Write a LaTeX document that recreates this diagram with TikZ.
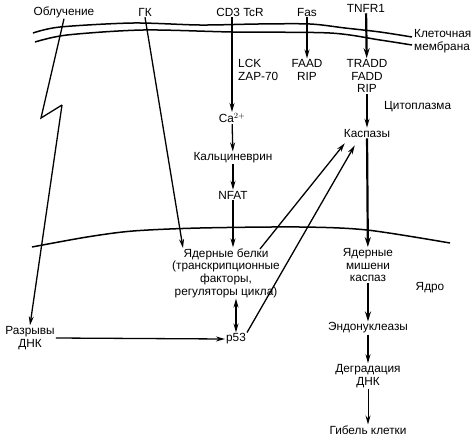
\documentclass[tikz,border=0pt]{standalone}
\usepackage{fontspec}
\setmainfont{Liberation Sans}
\usetikzlibrary{arrows.meta}
\begin{document}
\begin{tikzpicture}[x=1pt,y=-1pt,
  font=\fontsize{11.8}{12.6}\selectfont,
  lbl/.style={inner sep=1pt, align=center},
  arr/.style={line width=1.3pt, -{Stealth[length=9pt,width=5pt]}},
  darr/.style={line width=1.3pt, {Stealth[length=9pt,width=5pt]}-{Stealth[length=9pt,width=5pt]}},
  tarr/.style={line width=2.2pt, -{Stealth[length=10pt,width=6pt]}},
  mem/.style={line width=1.5pt}]
\useasboundingbox (0,0) rectangle (475,440);
% membranes
\draw[mem] plot[smooth] coordinates {(33,33) (60,27) (133,23) (200,25) (258,24) (310,24) (345,28) (380,32) (412,37)};
\draw[mem] plot[smooth] coordinates {(35,42) (67,35) (143,30) (233,32) (330,33) (380,40) (412,45)};
\draw[mem] plot[smooth] coordinates {(32,247) (87,237) (133,231) (200,228) (300,227) (367,230) (450,243)};
% labels
\node[lbl] (obl) at (64,12) {Облучение};
\node[lbl] (gk) at (145,12) {ГК};
\node[lbl] (cd3) at (240,12) {CD3 TcR};
\node[lbl] (fas) at (307,12) {Fas};
\node[lbl] (tnfr) at (366,8) {TNFR1};
\node[lbl, align=left, anchor=west] (klet) at (413,41) {Клеточная\\мембрана};
\node[lbl, align=left, anchor=west] (lck) at (237,70) {LCK\\ZAP-70};
\node[lbl] (faad) at (307,70) {FAAD\\RIP};
\node[lbl] (tradd) at (367,76) {TRADD\\FADD\\RIP};
\node[lbl, anchor=west] (cyto) at (383,107) {Цитоплазма};
\node[lbl] (ca) at (232,118) {Ca$^{2+}$};
\node[lbl] (kalc) at (233,158) {Кальциневрин};
\node[lbl] (nfat) at (233,195) {NFAT};
\node[lbl] (kasp) at (367,133) {Каспазы};
\node[lbl] (nb) at (226,273) {Ядерные белки\\(транскрипционные\\факторы,\\регуляторы цикла)};
\node[lbl] (p53) at (236,339) {p53};
\node[lbl] (razr) at (30,338) {Разрывы\\ДНК};
\node[lbl] (mish) at (368,265) {Ядерные\\мишени\\каспаз};
\node[lbl] (yadro) at (430,288) {Ядро};
\node[lbl] (endo) at (368,328) {Эндонуклеазы};
\node[lbl] (degr) at (368,376) {Деградация\\ДНК};
\node[lbl] (gib) at (368,430) {Гибель клетки};
% helper coordinates
\coordinate (zz1) at (41,118);
\coordinate (zz2) at (62,105);
\coordinate (gkend) at (183,248);
\coordinate (nbk) at (260,249);
% arrows
\draw[line width=1.3pt] (obl.south) -- (zz1) -- (zz2);
\draw[arr] (zz2) -- (razr.north);
\draw[arr] (gk.south) -- (gkend);
\draw[arr] (cd3.south -| ca) -- (ca.north);
\draw[arr] (ca) -- (kalc);
\draw[arr] (kalc) -- (nfat);
\draw[arr] (nfat) -- (nb.north -| nfat);
\draw[arr] (fas) -- (faad);
\draw[tarr] (tnfr) -- (tradd);
\draw[arr] (tradd) -- (kasp);
\draw[tarr] (kasp) -- (mish);
\draw[tarr] (mish) -- (endo);
\draw[arr] (endo) -- (degr);
\draw[line width=0.9pt, -{Stealth[length=9pt,width=5pt]}] (degr) -- (gib);
\draw[arr] (razr.east) -- (p53.west);
\draw[darr] (nb.south -| p53) -- (p53);
\draw[arr] (nbk) -- ([shift={(2,5)}]kasp.south west);
\draw[arr] (p53.north east) -- ([shift={(12,7)}]kasp.south west);
\end{tikzpicture}
\end{document}
